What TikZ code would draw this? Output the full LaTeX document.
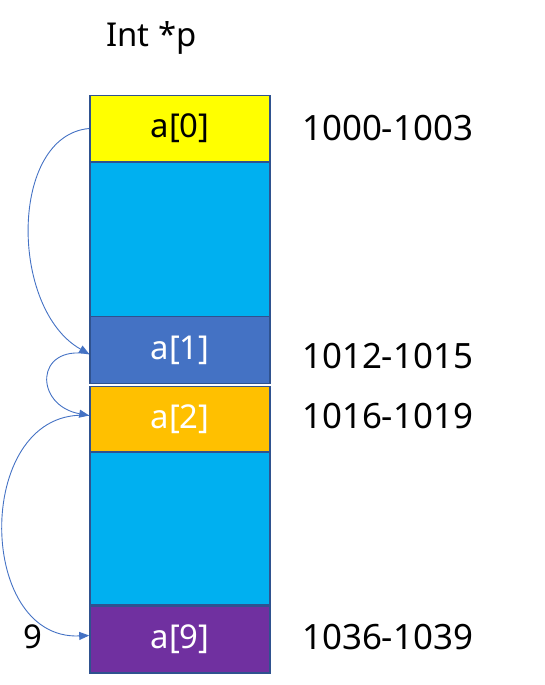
\documentclass[tikz,border=0pt]{standalone}
\usepackage{fontspec}
\setmainfont{Noto Sans}
\usetikzlibrary{arrows.meta}
\definecolor{cellborder}{HTML}{2F528F}
\definecolor{cyancell}{HTML}{00B0F0}
\definecolor{bluecell}{HTML}{4472C4}
\definecolor{orangecell}{HTML}{FFC000}
\definecolor{purplecell}{HTML}{7030A0}
\definecolor{yellowcell}{HTML}{FFFF00}
\definecolor{arrowblue}{HTML}{4472C4}
\tikzset{
  cell/.style={draw=cellborder, line width=1.6bp, minimum width=180bp, inner sep=0pt,
    font=\fontsize{33}{38}\selectfont},
  lbl/.style={font=\fontsize{33}{38}\selectfont, inner sep=0pt},
  addr/.style={font=\fontsize{35}{40}\selectfont, inner sep=0pt, anchor=west},
  link/.style={draw=arrowblue, line width=0.9bp, -{Triangle[length=10bp,width=8bp]}}
}
\begin{document}
\begin{tikzpicture}[x=1bp,y=-1bp]
\useasboundingbox (0,0) rectangle (545,685);
\node[lbl, anchor=west] (title) at (106,38) {Int *p};
\node[cell, fill=yellowcell, minimum height=66bp] (a0) at (180,128.5) {a[0]};
\node[cell, fill=cyancell, minimum height=155bp] (g1) at (180,239.5) {};
\node[cell, fill=bluecell, minimum height=67bp, text=white] (a1) at (180,350) {a[1]};
\node[cell, fill=orangecell, minimum height=66bp, text=white] (a2) at (180,419.5) {a[2]};
\node[cell, fill=cyancell, minimum height=153bp] (g2) at (180,528.5) {};
\node[cell, fill=purplecell, minimum height=67bp, text=white] (a9) at (180,639.5) {a[9]};
\node[addr] (r0) at (302,128) {1000-1003};
\node[addr] (r1) at (302,356) {1012-1015};
\node[addr] (r2) at (302,416) {1016-1019};
\node[addr] (r9) at (302,637) {1036-1039};
\node[lbl] (nine) at (33,637) {9};
\draw[link] (a0.west) .. controls +(-80,7) and +(-80,-45) .. ([yshift=-4bp]a1.west);
\draw[link] ([yshift=-4bp]a1.west) .. controls +(-55,-10) and +(-55,-10) .. ([yshift=4bp]a2.west);
\draw[link] ([yshift=4bp]a2.west) .. controls +(-115,-10) and +(-115,5) .. ([yshift=4bp]a9.west);
\end{tikzpicture}
\end{document}
